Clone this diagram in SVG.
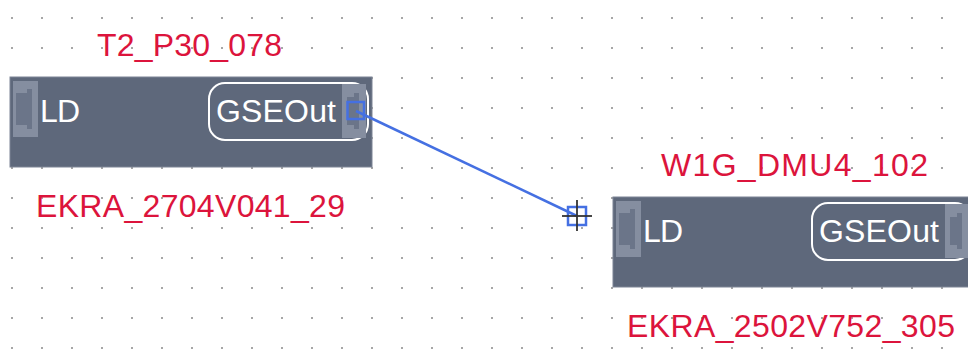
<svg xmlns="http://www.w3.org/2000/svg" width="968" height="349" viewBox="0 0 968 349">
<defs>
<pattern id="grid" patternUnits="userSpaceOnUse" x="0" y="0" width="30" height="30">
<rect x="11" y="17" width="2" height="2" fill="#a6a6a6"/>
</pattern>
<g id="ldnode">
<rect x="0" y="0" width="362" height="90" class="body"/>
<rect x="3" y="4" width="25" height="56" class="port"/>
<rect x="6" y="16" width="12" height="32" class="portin"/>
<rect x="17" y="12" width="5" height="40" class="portin"/>
<text x="30" y="45" class="w" textLength="40">LD</text>
<rect x="199" y="6" width="159" height="57" rx="16" ry="16" class="gse"/>
<text x="206" y="45" class="w" textLength="120">GSEOut</text>
<rect x="332" y="7" width="24" height="54" class="port"/>
<rect x="337" y="20" width="12" height="28" class="portin"/>
<rect x="344" y="16" width="5" height="36" class="portin"/>
</g>
</defs>
<style>
.body{fill:#5e687b;stroke:#7c8495;stroke-width:1}
.port{fill:#858ea0}
.portin{fill:#6b7589}
.gse{fill:none;stroke:#ffffff;stroke-width:2}
.w{font-family:"Liberation Sans",Arial,sans-serif;font-size:32px;fill:#ffffff}
.lbl{font-family:"Liberation Sans",Arial,sans-serif;font-size:32px;fill:#dc143c}
.conn{stroke:#4570e2;stroke-width:2.5;fill:none}
.cross{stroke:#333333;stroke-width:1.8}
</style>
<rect width="968" height="349" fill="#ffffff"/>
<rect width="968" height="349" fill="url(#grid)"/>
<g id="node-T2_P30_078">
<use href="#ldnode" x="10" y="77"/>
<text x="97" y="56" class="lbl" textLength="185">T2_P30_078</text>
<text x="36" y="217" class="lbl" textLength="309">EKRA_2704V041_29</text>
</g>
<g id="node-W1G_DMU4_102">
<use href="#ldnode" x="613" y="197"/>
<text x="661" y="176" class="lbl" textLength="267">W1G_DMU4_102</text>
<text x="627" y="337" class="lbl" textLength="328">EKRA_2502V752_305</text>
</g>
<g id="connectors">
<rect x="347.5" y="102" width="16.5" height="17" class="conn"/>
<line x1="356" y1="111" x2="577" y2="216" class="conn"/>
<rect x="568" y="207" width="18" height="18" class="conn"/>
<line x1="562" y1="216" x2="592" y2="216" class="cross"/>
<line x1="577" y1="200" x2="577" y2="231" class="cross"/>
</g>
</svg>
